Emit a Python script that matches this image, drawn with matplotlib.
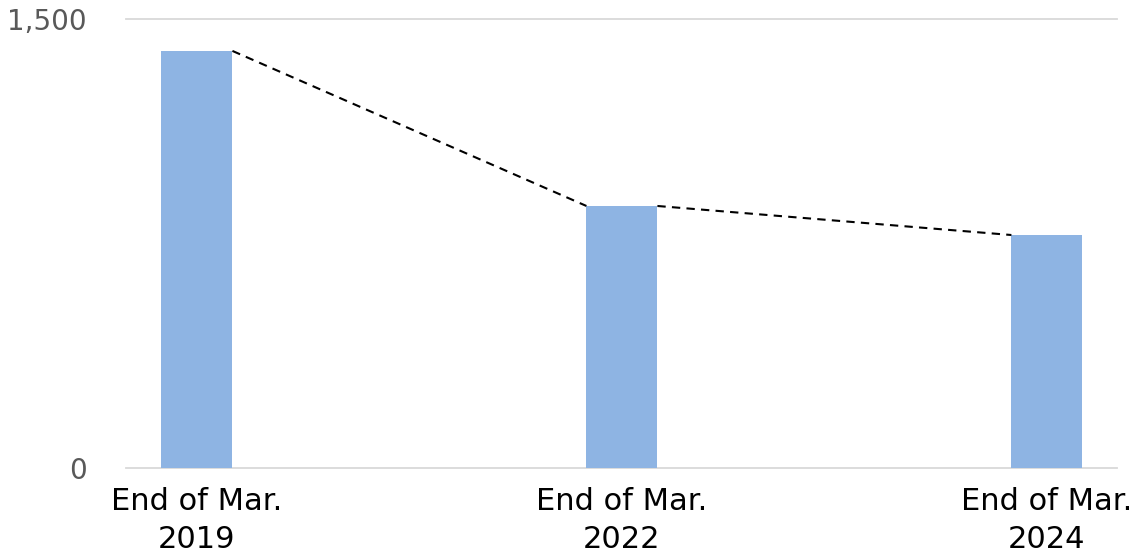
import matplotlib.pyplot as plt

# year-end totals
categories = ["End of Mar.\n2019", "End of Mar.\n2022", "End of Mar.\n2024"]
values = [1395, 877, 780]
y_ticks = [0, 1500]
y_labels = ["0", "1,500"]

fig = plt.figure(figsize=(11.37, 5.57), dpi=100)
ax = fig.add_axes([0.1108, 0.1589, 0.8716, 0.8061])

x = list(range(len(values)))
width = 0.167
ax.bar(x, values, width=width, color="#8EB4E3", zorder=3)

# series lines between the bar tops
for i in range(len(values) - 1):
    ax.plot([x[i] + width / 2, x[i + 1] - width / 2], [values[i], values[i + 1]],
            color="black", lw=1.5, ls=(0, (4, 3)), zorder=4)

ax.set_xlim(-0.167, 2.165)
ax.set_ylim(0, 1500)
ax.set_yticks(y_ticks)
ax.set_yticklabels(y_labels)
ax.set_xticks(x)
ax.set_xticklabels(categories, fontsize=22, color="black", linespacing=1.4)

ax.grid(axis="y", color="#d9d9d9", lw=1.3, zorder=0)
for gl in ax.get_ygridlines():
    gl.set_clip_on(False)
ax.set_axisbelow(True)
for s in ["top", "right", "left", "bottom"]:
    ax.spines[s].set_visible(False)
ax.tick_params(axis="y", length=0, pad=28, labelsize=20, labelcolor="#595959")
ax.tick_params(axis="x", length=0, pad=13)

fig.savefig("out.png", dpi=100)
